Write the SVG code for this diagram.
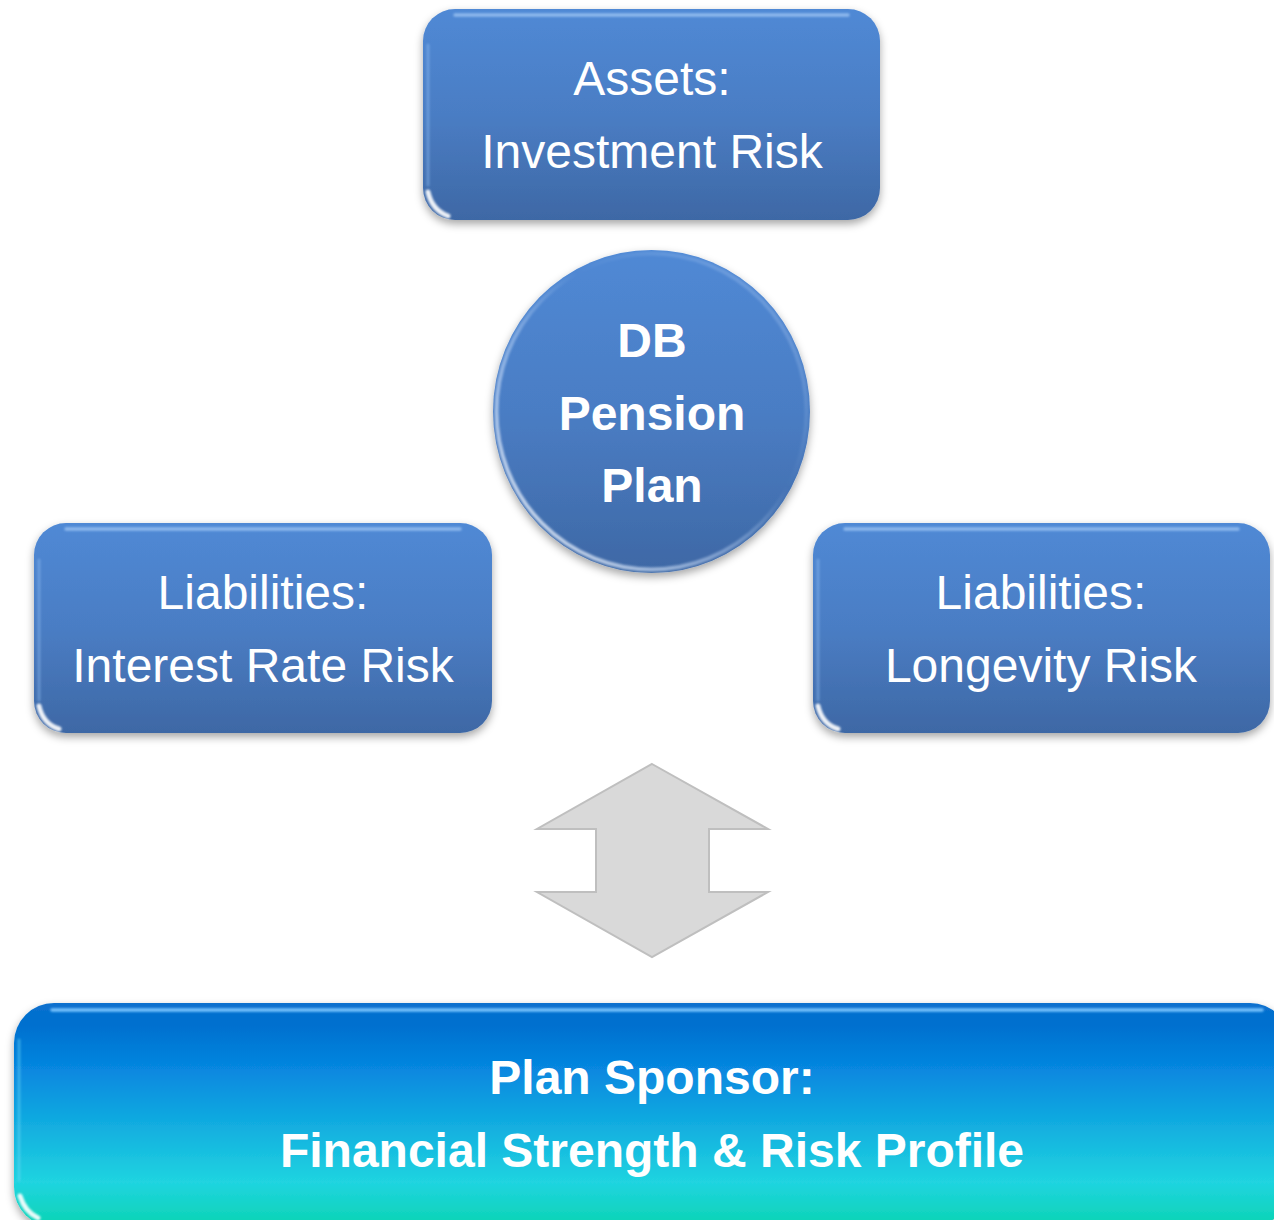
<svg xmlns="http://www.w3.org/2000/svg" width="1274" height="1220" viewBox="0 0 1274 1220">
  <defs>
    <linearGradient id="blueFill" x1="0" y1="0" x2="0" y2="1">
      <stop offset="0" stop-color="#5089d5"/>
      <stop offset="0.5" stop-color="#4a7dc4"/>
      <stop offset="1" stop-color="#3e68a5"/>
    </linearGradient>
    <linearGradient id="sponsorFill" x1="0" y1="0" x2="0" y2="1">
      <stop offset="0" stop-color="#0a6fce"/>
      <stop offset="0.1" stop-color="#0070cf"/>
      <stop offset="0.3" stop-color="#0788e0"/>
      <stop offset="0.55" stop-color="#12aee0"/>
      <stop offset="0.8" stop-color="#20d4e0"/>
      <stop offset="1" stop-color="#0ad4b2"/>
    </linearGradient>
    <linearGradient id="rimGlow" x1="0" y1="1" x2="1" y2="0">
      <stop offset="0" stop-color="#ffffff" stop-opacity="0.9"/>
      <stop offset="0.4" stop-color="#cfe3ff" stop-opacity="0.4"/>
      <stop offset="0.6" stop-color="#cfe3ff" stop-opacity="0"/>
      <stop offset="1" stop-color="#cfe3ff" stop-opacity="0.35"/>
    </linearGradient>
    <filter id="shadow" x="-10%" y="-10%" width="120%" height="130%">
      <feDropShadow dx="0" dy="4" stdDeviation="4" flood-color="#000" flood-opacity="0.35"/>
    </filter>
    <!-- region in user space so straight highlight lines keep their blur -->
    <filter id="soft" filterUnits="userSpaceOnUse" x="0" y="0" width="1274" height="1220">
      <feGaussianBlur stdDeviation="1.2"/>
    </filter>
  </defs>
  <style>
    .box { fill: url(#blueFill); filter: url(#shadow); }
    .sponsor { fill: url(#sponsorFill); filter: url(#shadow); }
    .topline { fill: none; stroke: #a8cdf8; stroke-width: 3.5; stroke-linecap: round; opacity: 0.7; filter: url(#soft); }
    .sideline { fill: none; stroke: #8fbcf0; stroke-width: 3; stroke-linecap: round; opacity: 0.45; filter: url(#soft); }
    .corner { fill: none; stroke: #ffffff; stroke-width: 5; stroke-linecap: round; opacity: 0.9; filter: url(#soft); }
    .label { fill: #ffffff; font-family: "Liberation Sans", Arial, sans-serif; font-size: 48px; text-anchor: middle; }
    .bold { font-weight: bold; }
    .arrow { fill: #d9d9d9; stroke: #bfbfbf; stroke-width: 2; }
  </style>

  <!-- two-way arrow between the plan and its sponsor -->
  <g id="connectors">
    <path class="arrow" d="M652,764 L768,829 L709,829 L709,892 L768,892 L652,957 L537,892 L596,892 L596,829 L537,829 Z"/>
  </g>

  <g id="assets">
    <rect class="box" x="423" y="9" width="457" height="211" rx="32"/>
    <path class="topline" d="M455,15 L848,15"/>
    <path class="sideline" d="M428,45 L428,185"/>
    <path class="corner" d="M428,192 Q432,210 448,216"/>
    <text class="label" x="652" y="95">Assets:</text>
    <text class="label" x="652" y="168">Investment Risk</text>
  </g>

  <g id="db-pension-plan">
    <ellipse cx="651.5" cy="411.5" rx="158.5" ry="161.5" fill="url(#blueFill)" filter="url(#shadow)"/>
    <ellipse cx="651.5" cy="411.5" rx="155" ry="158" fill="none" stroke="url(#rimGlow)" stroke-width="4" filter="url(#soft)"/>
    <text class="label bold" x="652" y="357" font-size="47">DB</text>
    <text class="label bold" x="652" y="430" font-size="47">Pension</text>
    <text class="label bold" x="652" y="502" font-size="47">Plan</text>
  </g>

  <g id="interest-rate-risk">
    <rect class="box" x="34" y="523" width="458" height="210" rx="32"/>
    <path class="topline" d="M66,529 L460,529"/>
    <path class="sideline" d="M39,560 L39,700"/>
    <path class="corner" d="M39,706 Q43,724 59,729"/>
    <text class="label" x="263" y="609">Liabilities:</text>
    <text class="label" x="263" y="682">Interest Rate Risk</text>
  </g>

  <g id="longevity-risk">
    <rect class="box" x="813" y="523" width="457" height="210" rx="32"/>
    <path class="topline" d="M845,529 L1238,529"/>
    <path class="sideline" d="M818,560 L818,700"/>
    <path class="corner" d="M818,706 Q822,724 838,729"/>
    <text class="label" x="1041" y="609">Liabilities:</text>
    <text class="label" x="1041" y="682">Longevity Risk</text>
  </g>

  <g id="plan-sponsor">
    <rect class="sponsor" x="14" y="1003" width="1276" height="224" rx="40"/>
    <path class="topline" d="M52,1010 L1262,1010" style="stroke:#7cc6ff;opacity:0.95"/>
    <path class="sideline" d="M19,1040 L19,1180" style="stroke:#6fd8f5"/>
    <path class="corner" d="M20,1196 Q25,1212 38,1218"/>
    <text class="label bold" x="652" y="1094">Plan Sponsor:</text>
    <text class="label bold" x="652" y="1167">Financial Strength &amp; Risk Profile</text>
  </g>
</svg>
